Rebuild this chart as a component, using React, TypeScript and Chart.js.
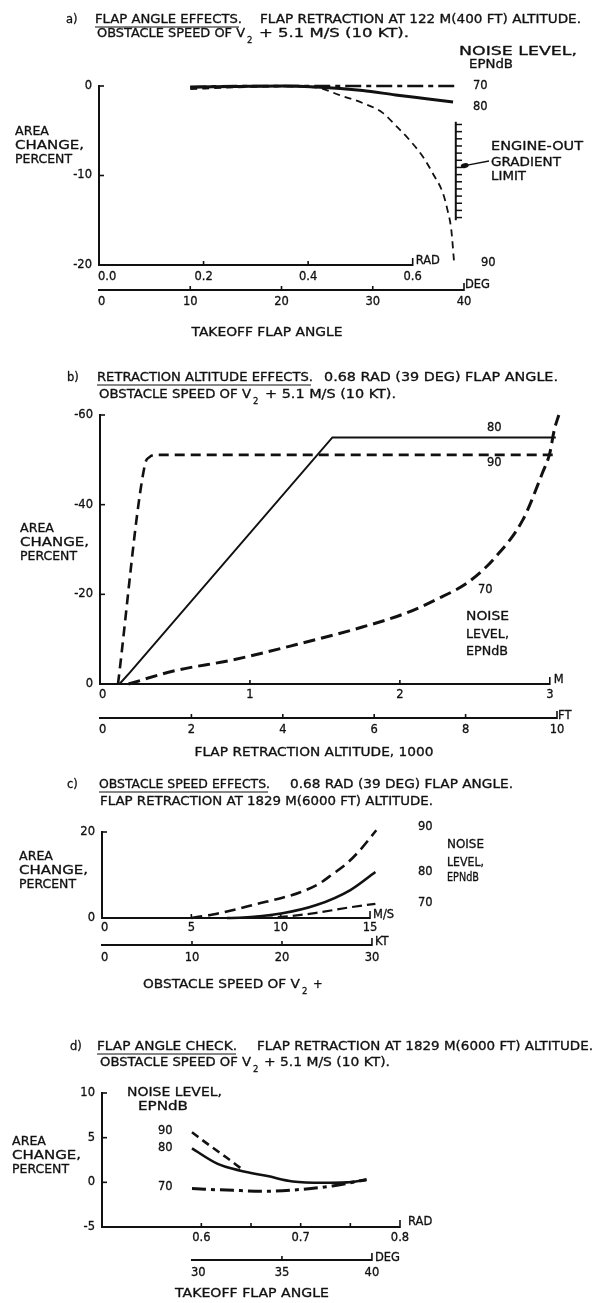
import React, { useEffect, useRef } from 'react';
import { Chart, registerables } from 'chart.js';

Chart.register(...registerables);

// ---------------- Panel a: flap angle effects (x in degrees) ----------------
const aDeg70 = [10, 15, 20, 25, 30, 35, 39];
const aVal70 = [-0.15, 0, 0, 0, 0, 0, 0];
const aDeg80 = [10, 15, 20, 23.8, 28.9, 32.5, 36.1, 38.8];
const aVal80 = [-0.1, -0.05, 0, -0.1, -0.5, -1.0, -1.45, -1.8];
const aDeg90 = [10, 15, 20, 24, 26.3, 28.9, 31.1, 32.5, 34, 35.5, 36.6, 37.7, 38.2, 38.6, 38.9];
const aVal90 = [-0.35, -0.15, -0.05, -0.2, -1.0, -1.9, -3.0, -4.4, -6.0, -7.9, -9.8, -12, -13.9, -16, -19.5];
const aLimitDeg = [39.1, 39.1];
const aLimitVal = [-4, -15];
const aHatchDeg = 39.45;
const aHatchVal = [-4.3, -5.1, -5.9, -6.7, -7.5, -8.3, -9.1, -9.9, -10.7, -11.5, -12.3, -13.1, -13.9, -14.7];
const aYTicks = [0, -10, -20];
const aRadTicks = [0, 0.2, 0.4, 0.6];
const aDegTicks = [0, 10, 20, 30, 40];

// ---------------- Panel b: retraction altitude effects (x in 1000 m) ----------------
const bKm90 = [0.12, 0.3, 0.33, 0.38, 3.05];
const bVal90 = [0, -49, -50.6, -51.1, -51.1];
const bKm80 = [0.13, 0.2, 1.55, 3.04];
const bVal80 = [0, -2.6, -55, -55];
const bKm70 = [0.19, 0.49, 0.89, 1.31, 1.75, 2.04, 2.24, 2.46, 2.64, 2.82, 2.95, 3.0, 3.03, 3.06];
const bVal70 = [0, -2.9, -5.4, -8.8, -12.7, -15.8, -18.8, -22.8, -28.4, -36.6, -47, -51.5, -56.7, -60];
const bYTicks = [0, -20, -40, -60];
const bMTicks = [0, 1, 2, 3];
const bFtTicks = [0, 2, 4, 6, 8, 10];

// ---------------- Panel c: obstacle speed effects (x in m/s) ----------------
const cMs90 = [5, 6.2, 7.5, 8.7, 10, 11.1, 12.2, 12.9, 13.7, 14.4, 15.35];
const cVal90 = [0, 0.8, 2.0, 3.3, 4.6, 6.0, 8.1, 10.2, 12.7, 15.6, 20.4];
const cMs80 = [7, 7.7, 10.1, 12.0, 13.9, 15.3];
const cVal80 = [0, 0.05, 1.1, 3.0, 6.5, 10.7];
const cMs70 = [9, 10.2, 12, 13.9, 15.3];
const cVal70 = [0, 0.3, 1.2, 2.5, 3.3];
const cYTicks = [0, 20];
const cMsTicks = [0, 5, 10, 15];
const cKtTicks = [0, 10, 20, 30];

// ---------------- Panel d: flap angle check (x in degrees) ----------------
const dDeg90 = [30, 31, 31.9, 32.7];
const dVal90 = [5.6, 4.1, 2.8, 1.6];
const dDeg80 = [30, 31.4, 32.7, 34.2, 35.6, 37.3, 38.6, 39.7];
const dVal80 = [3.8, 2.1, 1.3, 0.7, 0.1, -0.05, 0, 0.3];
const dDeg70 = [30, 32.3, 34.2, 36, 37.8, 39.7];
const dVal70 = [-0.7, -0.9, -1.0, -0.8, -0.4, 0.3];
const dYTicks = [-5, 0, 5, 10];
const dRadTicks = [0.6, 0.7, 0.8];
const dRadMinor = [0.65, 0.75];
const dDegTicks = [30, 35, 40];

// ---------------------------------------------------------------------------
const INK = '#111111';
const FONT_FAMILY = '"DejaVu Sans", "Liberation Sans", sans-serif';
type Align = 'left' | 'center' | 'right';

function txt(ctx: CanvasRenderingContext2D, s: string, x: number, y: number, w?: number, align: Align = 'left', size = 11.5) {
  ctx.save();
  ctx.font = `${size}px ${FONT_FAMILY}`;
  ctx.fillStyle = INK;
  ctx.strokeStyle = INK;
  ctx.lineWidth = 0.3;
  ctx.lineJoin = 'round';
  ctx.textBaseline = 'middle';
  ctx.textAlign = 'left';
  const nat = ctx.measureText(s).width;
  const width = w ?? nat;
  const left = align === 'center' ? x - width / 2 : align === 'right' ? x - width : x;
  ctx.translate(left, y);
  ctx.scale(width / nat, 1);
  ctx.fillText(s, 0, 0);
  ctx.strokeText(s, 0, 0);
  ctx.restore();
}

function seg(ctx: CanvasRenderingContext2D, x1: number, y1: number, x2: number, y2: number, w = 2) {
  ctx.save();
  ctx.strokeStyle = INK;
  ctx.lineWidth = w;
  ctx.lineCap = 'butt';
  ctx.beginPath();
  ctx.moveTo(x1, y1);
  ctx.lineTo(x2, y2);
  ctx.stroke();
  ctx.restore();
}

function yAxis(ctx: CanvasRenderingContext2D, sc: any, x: number, ticks: number[], bottomPx: number) {
  const ps = ticks.map((v) => sc.getPixelForValue(v));
  const top = Math.min(...ps);
  const bot = Math.max(...ps);
  seg(ctx, x, top - 1, x, bot + 1, 2);
  ticks.forEach((v, i) => {
    const p = ps[i];
    if (Math.abs(p - bottomPx) > 1) seg(ctx, x, p, x + 5, p, 1.6);
    txt(ctx, String(v), x - 7, p, undefined, 'right');
  });
}

type XAxisOpts = {
  from: number;
  ticks: number[];
  fmt: (v: number) => string;
  minor?: number[];
  labelDy: number;
  unit: string;
  unitDx: number;
  unitDy: number;
};

function xAxis(ctx: CanvasRenderingContext2D, sc: any, y: number, o: XAxisOpts) {
  const x0 = sc.getPixelForValue(o.from);
  const last = o.ticks[o.ticks.length - 1];
  const x1 = sc.getPixelForValue(last);
  seg(ctx, x0 - 1, y, x1, y, 2);
  o.ticks.forEach((v, i) => {
    const x = sc.getPixelForValue(v);
    if (i === o.ticks.length - 1) seg(ctx, x, y + 1, x, y - 7, 1.6);
    else if (v !== o.from) seg(ctx, x, y, x, y - 4, 1.6);
    if (v === o.from) txt(ctx, o.fmt(v), x - 1, y + o.labelDy, undefined, 'left');
    else txt(ctx, o.fmt(v), x, y + o.labelDy, undefined, 'center');
  });
  (o.minor || []).forEach((v) => {
    const x = sc.getPixelForValue(v);
    seg(ctx, x, y, x, y - 4, 1.6);
  });
  txt(ctx, o.unit, x1 + o.unitDx, y + o.unitDy);
}

function areaLabel(ctx: CanvasRenderingContext2D, x: number, y: number) {
  txt(ctx, 'AREA', x, y, 34);
  txt(ctx, 'CHANGE,', x, y + 14, 69);
  txt(ctx, 'PERCENT', x, y + 28, 57);
}

function series(xs: number[], ys: number[], xAxisID: string, w: number, dash: number[] = [], smooth = true) {
  return {
    data: xs.map((x, i) => ({ x, y: ys[i] })),
    xAxisID,
    yAxisID: 'y',
    borderColor: INK,
    backgroundColor: INK,
    borderWidth: w,
    borderDash: dash,
    borderCapStyle: 'butt',
    pointRadius: 0,
    fill: false,
    clip: false,
    tension: 0,
    cubicInterpolationMode: smooth ? 'monotone' : 'default',
  };
}

function buildChart(canvas: HTMLCanvasElement, datasets: any[], scales: any, padding: any, draw: (ctx: CanvasRenderingContext2D, chart: any) => void) {
  return new Chart(canvas, {
    type: 'line',
    data: { datasets },
    options: {
      responsive: false,
      maintainAspectRatio: false,
      animation: false,
      devicePixelRatio: 1,
      events: [],
      layout: { padding },
      plugins: { legend: { display: false }, tooltip: { enabled: false }, title: { display: false } },
      scales,
    },
    plugins: [{ id: 'decor', afterDraw: (chart: any) => draw(chart.ctx, chart) }],
  } as any);
}

// ---------------- Panel builders ----------------
function makeA(canvas: HTMLCanvasElement) {
  const datasets: any[] = [
    series(aDeg70, aVal70, 'x2', 2.6, [16, 5, 5, 5]),
    series(aDeg80, aVal80, 'x2', 3),
    series(aDeg90, aVal90, 'x2', 1.8, [7, 5]),
    series(aLimitDeg, aLimitVal, 'x2', 2, [], false),
    {
      type: 'scatter',
      data: aHatchVal.map((v) => ({ x: aHatchDeg, y: v })),
      xAxisID: 'x2',
      yAxisID: 'y',
      showLine: false,
      pointStyle: 'line',
      pointRadius: 3,
      pointBorderWidth: 1.5,
      pointBorderColor: INK,
      clip: false,
    },
  ];
  const scales = {
    x: { type: 'linear', display: false, min: 0, max: 40 / 57.29578 },
    x2: { type: 'linear', axis: 'x', display: false, min: 0, max: 40 },
    y: { type: 'linear', display: false, min: -20, max: 0 },
  };
  return buildChart(canvas, datasets, scales, { left: 99, top: 86, right: 132, bottom: 75 }, (ctx, chart) => {
    const ca = chart.chartArea;
    const { x: rad, x2: deg, y } = chart.scales;
    txt(ctx, 'a)', 66, 20);
    txt(ctx, 'FLAP ANGLE EFFECTS.', 95, 20, 147);
    seg(ctx, 95, 27, 239, 27, 1.2);
    txt(ctx, 'FLAP RETRACTION AT 122 M(400 FT) ALTITUDE.', 260, 20, 321);
    txt(ctx, 'OBSTACLE SPEED OF V', 97, 34, 148);
    txt(ctx, '2', 247, 41, undefined, 'left', 8.5);
    txt(ctx, '+ 5.1 M/S (10 KT).', 259, 34, 150);
    txt(ctx, 'NOISE LEVEL,', 459, 52, 118);
    txt(ctx, 'EPNdB', 469, 65, 44);
    areaLabel(ctx, 15, 132);
    yAxis(ctx, y, ca.left, aYTicks, ca.bottom);
    xAxis(ctx, rad, ca.bottom, { from: 0, ticks: aRadTicks, fmt: (v) => v.toFixed(1), labelDy: 12, unit: 'RAD', unitDx: 3, unitDy: -4 });
    xAxis(ctx, deg, 290, { from: 0, ticks: aDegTicks, fmt: (v) => String(v), labelDy: 12, unit: 'DEG', unitDx: 1, unitDy: -5 });
    txt(ctx, 'TAKEOFF FLAP ANGLE', 267, 333, 151, 'center');
    txt(ctx, '70', 473, y.getPixelForValue(0));
    txt(ctx, '80', 473, 107);
    txt(ctx, '90', 481, 263);
    txt(ctx, 'ENGINE-OUT', 491, 147, 92);
    txt(ctx, 'GRADIENT', 491, 163, 70);
    txt(ctx, 'LIMIT', 491, 177, 35);
    const tipX = deg.getPixelForValue(aLimitDeg[0]) + 9;
    const tipY = y.getPixelForValue(-8.9);
    seg(ctx, 489, 161, tipX, tipY, 1.4);
    ctx.save();
    ctx.fillStyle = INK;
    ctx.beginPath();
    ctx.ellipse(tipX, tipY, 4, 2.5, -0.2, 0, Math.PI * 2);
    ctx.fill();
    ctx.restore();
  });
}

function makeB(canvas: HTMLCanvasElement) {
  const datasets: any[] = [
    series(bKm80, bVal80, 'x', 2, [], false),
    series(bKm90, bVal90, 'x', 2.6, [10, 6]),
    series(bKm70, bVal70, 'x', 3, [12, 6]),
  ];
  const scales = {
    x: { type: 'linear', display: false, min: 0, max: 10 / 3.28084 },
    x2: { type: 'linear', axis: 'x', display: false, min: 0, max: 10 },
    y: { type: 'linear', display: false, min: -60, max: 0, reverse: true },
  };
  return buildChart(canvas, datasets, scales, { left: 100, top: 75, right: 39, bottom: 86 }, (ctx, chart) => {
    const ca = chart.chartArea;
    const { x: km, x2: ft, y } = chart.scales;
    txt(ctx, 'b)', 67, 38);
    txt(ctx, 'RETRACTION ALTITUDE EFFECTS.', 97, 38, 216);
    seg(ctx, 97, 45, 311, 45, 1.2);
    txt(ctx, '0.68 RAD (39 DEG) FLAP ANGLE.', 324, 38, 234);
    txt(ctx, 'OBSTACLE SPEED OF V', 99, 55, 152);
    txt(ctx, '2', 253, 62, undefined, 'left', 8.5);
    txt(ctx, '+ 5.1 M/S (10 KT).', 265, 55, 131);
    areaLabel(ctx, 20, 189);
    yAxis(ctx, y, ca.left, bYTicks, ca.bottom);
    xAxis(ctx, km, ca.bottom, { from: 0, ticks: bMTicks, fmt: (v) => String(v), labelDy: 11, unit: 'M', unitDx: 4, unitDy: -4 });
    xAxis(ctx, ft, 378, { from: 0, ticks: bFtTicks, fmt: (v) => String(v), labelDy: 12, unit: 'FT', unitDx: 1, unitDy: -2 });
    txt(ctx, 'FLAP RETRACTION ALTITUDE, 1000', 314, 413, 239, 'center');
    txt(ctx, '80', 487, 88);
    txt(ctx, '90', 487, 123);
    txt(ctx, '70', 478, 250);
    txt(ctx, 'NOISE', 466, 277, 43);
    txt(ctx, 'LEVEL,', 466, 295, 43);
    txt(ctx, 'EPNdB', 466, 312, 42);
  });
}

function makeC(canvas: HTMLCanvasElement) {
  const datasets: any[] = [
    series(cMs90, cVal90, 'x', 2.6, [11, 6]),
    series(cMs80, cVal80, 'x', 2.6),
    series(cMs70, cVal70, 'x', 2.2, [10, 5]),
  ];
  const scales = {
    x: { type: 'linear', display: false, min: 0, max: 15.39 },
    x2: { type: 'linear', axis: 'x', display: false, min: 0, max: 30.56 },
    y: { type: 'linear', display: false, min: 0, max: 20 },
  };
  return buildChart(canvas, datasets, scales, { left: 102, top: 62, right: 219, bottom: 92 }, (ctx, chart) => {
    const ca = chart.chartArea;
    const { x: ms, x2: kt, y } = chart.scales;
    txt(ctx, 'c)', 67, 15);
    txt(ctx, 'OBSTACLE SPEED EFFECTS.', 99, 15, 171);
    seg(ctx, 99, 22, 268, 22, 1.2);
    txt(ctx, '0.68 RAD (39 DEG) FLAP ANGLE.', 290, 15, 223);
    txt(ctx, 'FLAP RETRACTION AT 1829 M(6000 FT) ALTITUDE.', 100, 32, 333);
    areaLabel(ctx, 19, 87);
    yAxis(ctx, y, ca.left, cYTicks, ca.bottom);
    xAxis(ctx, ms, ca.bottom, { from: 0, ticks: cMsTicks, fmt: (v) => String(v), labelDy: 10, unit: 'M/S', unitDx: 3, unitDy: -3 });
    xAxis(ctx, kt, 175, { from: 0, ticks: cKtTicks, fmt: (v) => String(v), labelDy: 13, unit: 'KT', unitDx: 3, unitDy: -3 });
    txt(ctx, 'OBSTACLE SPEED OF V', 143, 215, 157);
    txt(ctx, '2', 302, 222, undefined, 'left', 8.5);
    txt(ctx, '+', 313, 215);
    txt(ctx, '90', 418, 57);
    txt(ctx, '80', 418, 102);
    txt(ctx, '70', 418, 133);
    txt(ctx, 'NOISE', 447, 75, 37);
    txt(ctx, 'LEVEL,', 447, 93, 37);
    txt(ctx, 'EPNdB', 447, 108, 32);
  });
}

function makeD(canvas: HTMLCanvasElement) {
  const datasets: any[] = [
    series(dDeg90, dVal90, 'x2', 2.6, [8, 5]),
    series(dDeg80, dVal80, 'x2', 2.6),
    series(dDeg70, dVal70, 'x2', 3, [14, 5, 4, 5]),
  ];
  const scales = {
    x: { type: 'linear', display: false, min: 0.5, max: 0.8 },
    x2: { type: 'linear', axis: 'x', display: false, min: 25, max: 41.56 },
    y: { type: 'linear', display: false, min: -5, max: 10 },
  };
  return buildChart(canvas, datasets, scales, { left: 102, top: 83, right: 196, bottom: 76 }, (ctx, chart) => {
    const ca = chart.chartArea;
    const { x: rad, x2: deg, y } = chart.scales;
    txt(ctx, 'd)', 70, 37);
    txt(ctx, 'FLAP ANGLE CHECK.', 97, 37, 140);
    seg(ctx, 97, 44, 236, 44, 1.2);
    txt(ctx, 'FLAP RETRACTION AT 1829 M(6000 FT) ALTITUDE.', 257, 37, 336);
    txt(ctx, 'OBSTACLE SPEED OF V', 100, 53, 151);
    txt(ctx, '2', 253, 60, undefined, 'left', 8.5);
    txt(ctx, '+ 5.1 M/S (10 KT).', 264, 53, 126);
    areaLabel(ctx, 12, 132);
    yAxis(ctx, y, ca.left, dYTicks, ca.bottom);
    xAxis(ctx, rad, ca.bottom, { from: 0.5, ticks: dRadTicks, fmt: (v) => v.toFixed(1), minor: dRadMinor, labelDy: 11, unit: 'RAD', unitDx: 8, unitDy: -5 });
    xAxis(ctx, deg, 250, { from: 30, ticks: dDegTicks, fmt: (v) => String(v), labelDy: 13, unit: 'DEG', unitDx: 3, unitDy: -2 });
    txt(ctx, 'NOISE LEVEL,', 127, 83, 95);
    txt(ctx, 'EPNdB', 138, 97, 50);
    txt(ctx, '90', 158, 121);
    txt(ctx, '80', 158, 138);
    txt(ctx, '70', 158, 177);
    txt(ctx, 'TAKEOFF FLAP ANGLE', 252, 284, 154, 'center');
  });
}

function PanelCanvas({ top, height, make }: { top: number; height: number; make: (c: HTMLCanvasElement) => any }) {
  const ref = useRef<HTMLCanvasElement>(null);
  useEffect(() => {
    if (!ref.current) return;
    const chart = make(ref.current);
    return () => chart.destroy();
  }, [make]);
  return (
    <canvas
      ref={ref}
      width={596}
      height={height}
      style={{ position: 'absolute', left: 0, top, width: 596, height, display: 'block' }}
    />
  );
}

export default function App() {
  return (
    <div style={{ position: 'absolute', left: 0, top: 0, width: 596, height: 1303, background: '#ffffff', overflow: 'hidden' }}>
      <PanelCanvas top={0} height={340} make={makeA} />
      <PanelCanvas top={340} height={430} make={makeB} />
      <PanelCanvas top={770} height={240} make={makeC} />
      <PanelCanvas top={1010} height={293} make={makeD} />
    </div>
  );
}
